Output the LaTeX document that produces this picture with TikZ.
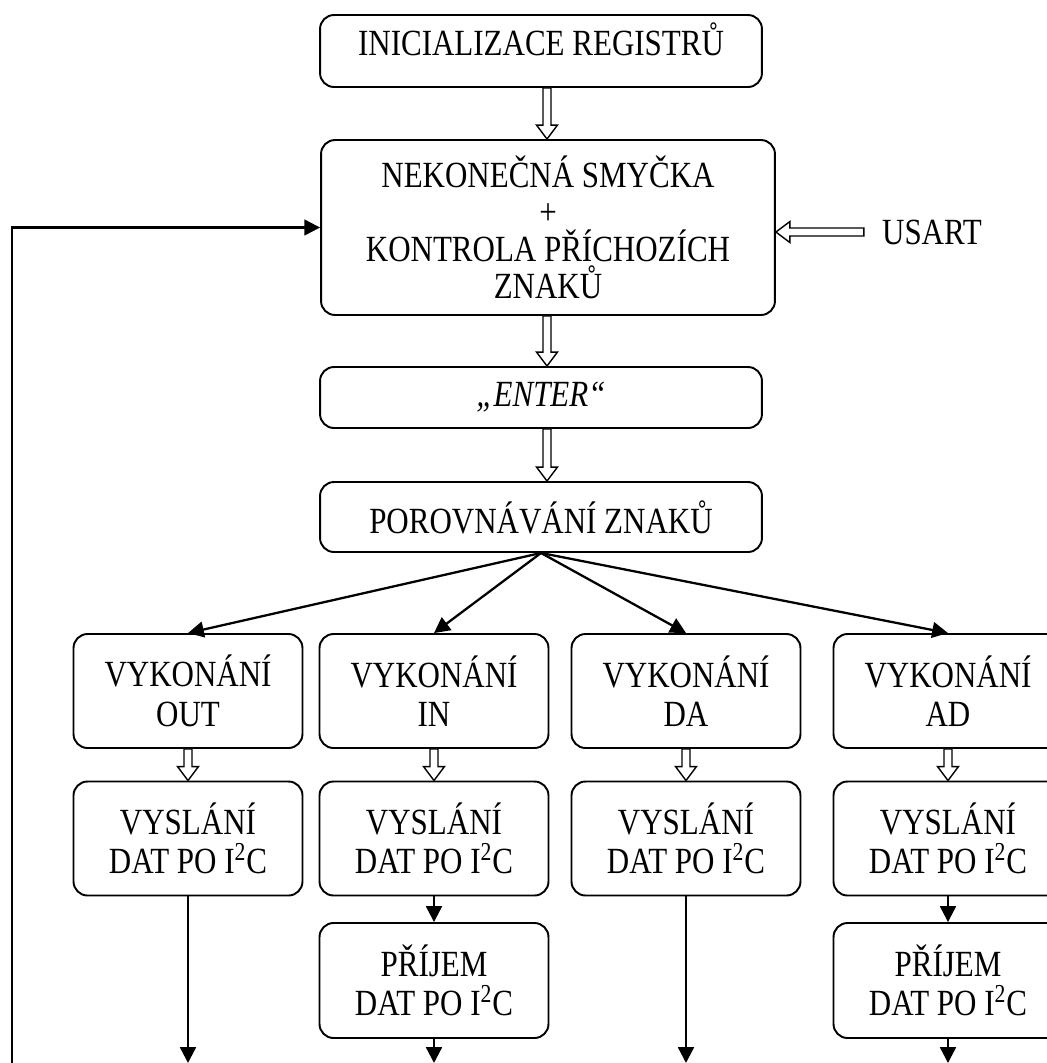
\documentclass[tikz,border=0pt]{standalone}
\usepackage{fontspec}
\setmainfont{Liberation Serif}[FakeStretch=0.84]
\usetikzlibrary{arrows.meta,positioning,calc}

% hollow block arrow from #1 to #2
\newcommand{\fatarrow}[2]{%
  \coordinate (fa1) at (#1);
  \coordinate (fa2) at (#2);
  \coordinate (fah) at ($(fa2)!0.28cm!(fa1)$);
  \draw[hollow] ($(fa1)!0.08cm!90:(fa2)$) -- ($(fah)!0.08cm!90:(fa2)$)
    -- ($(fah)!0.21cm!90:(fa2)$) -- (fa2) -- ($(fah)!0.21cm!-90:(fa2)$)
    -- ($(fah)!0.08cm!-90:(fa2)$) -- ($(fa1)!0.08cm!-90:(fa2)$) -- cycle;}

\begin{document}
\begin{tikzpicture}[x=0.02cm,y=-0.02cm,
  txt/.style={font=\fontsize{21}{22.5}\selectfont},
  box/.style={txt,draw,line width=1.1pt,rounded corners=0.28cm,align=center,inner sep=0pt},
  wide/.style={box,minimum width=8.84cm},
  cell/.style={box,minimum width=4.58cm,minimum height=2.28cm},
  flow/.style={-{Triangle[length=9pt,width=9pt]},line width=1.3pt},
  hollow/.style={line width=0.8pt,fill=white,line join=miter}
]
\useasboundingbox (0,0) rectangle (1047,1063);
\coordinate (axis) at (547,0);

\node[wide,minimum height=1.44cm,text depth=14pt] (init) at (541,51) {INICIALIZACE REGISTRŮ};
\node[box,minimum width=9.08cm,minimum height=3.5cm,txt,font=\fontsize{21}{21}\selectfont] (smycka) at (548,227.5)
  {NEKONEČNÁ SMYČKA\\+\\KONTROLA PŘÍCHOZÍCH\\ZNAKŮ};
\node[wide,minimum height=1.22cm] (enter) at (541,397.5) {\textit{„ENTER“}};
\node[wide,minimum height=1.4cm] (porov) at (541,517) {POROVNÁVÁNÍ ZNAKŮ};
\node[txt] (usart) at (932,232) {USART};

\node[cell] (vykOut) at (188,691) {VYKONÁNÍ\\OUT};
\node[cell] (vykIn) at (434,691) {VYKONÁNÍ\\IN};
\node[cell] (vykDa) at (686,691) {VYKONÁNÍ\\DA};
\node[cell] (vykAd) at (948,691) {VYKONÁNÍ\\AD};

\node[cell] (vysOut) at (188,838.5) {VYSLÁNÍ\\DAT PO I\textsuperscript{2}C};
\node[cell] (vysIn) at (434,838.5) {VYSLÁNÍ\\DAT PO I\textsuperscript{2}C};
\node[cell] (vysDa) at (686,838.5) {VYSLÁNÍ\\DAT PO I\textsuperscript{2}C};
\node[cell] (vysAd) at (948,838.5) {VYSLÁNÍ\\DAT PO I\textsuperscript{2}C};

\node[cell,minimum height=2.3cm] (prijIn) at (434,980.5) {PŘÍJEM\\DAT PO I\textsuperscript{2}C};
\node[cell,minimum height=2.3cm] (prijAd) at (948,980.5) {PŘÍJEM\\DAT PO I\textsuperscript{2}C};

\coordinate (loop) at (12,1063);
\coordinate (endOut) at (188,1063);
\coordinate (endIn) at (434,1063);
\coordinate (endDa) at (686,1063);
\coordinate (endAd) at (948,1063);

% block arrows
\fatarrow{init.south -| axis}{smycka.north -| axis}
\fatarrow{smycka.south -| axis}{enter.north -| axis}
\fatarrow{enter.south -| axis}{porov.north -| axis}
\fatarrow{$(usart.west)+(-12,0)$}{smycka.east |- usart.west}
\foreach \c in {Out,In,Da,Ad}
  {\fatarrow{vyk\c.south}{vys\c.north}}

% branches
\foreach \c in {Out,In,Da,Ad}
  \draw[flow] (porov.south) -- (vyk\c.north);

\draw[flow] (vysOut) -- (endOut);
\draw[flow] (vysIn) -- (prijIn);
\draw[flow] (prijIn) -- (endIn);
\draw[flow] (vysDa) -- (endDa);
\draw[flow] (vysAd) -- (prijAd);
\draw[flow] (prijAd) -- (endAd);
\draw[flow] (loop) |- (smycka.west);
\end{tikzpicture}
\end{document}
